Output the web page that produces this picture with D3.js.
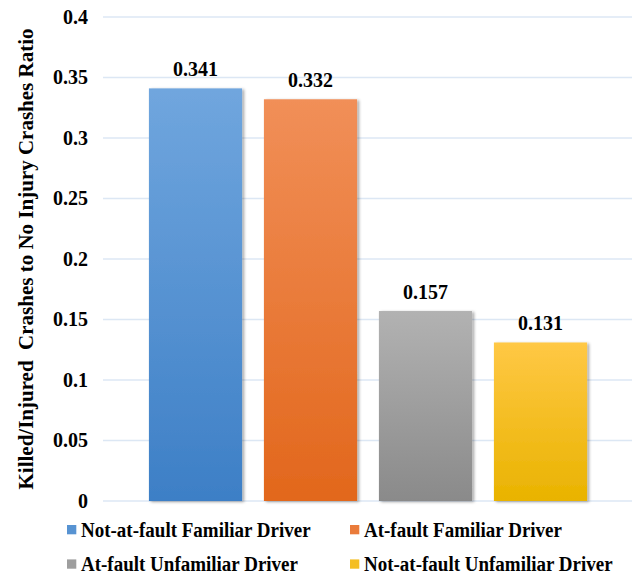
<!DOCTYPE html>
<html>
<head>
<meta charset="utf-8">
<script src="https://cdn.jsdelivr.net/npm/d3@7"></script>
<style>
  body { margin: 0; background: #fff; }
</style>
</head>
<body>
<div id="chart"></div>
<script>
// data
var series = ["Not-at-fault Familiar Driver", "At-fault Familiar Driver", "At-fault Unfamiliar Driver", "Not-at-fault Unfamiliar Driver"]
var values = [0.341, 0.332, 0.157, 0.131]
var yTicks = [0, 0.05, 0.1, 0.15, 0.2, 0.25, 0.3, 0.35, 0.4]
var topColors = ["#70a6de", "#f18f58", "#b2b2b2", "#ffc845"]
var bottomColors = ["#3d7fc6", "#e2671c", "#8a8a8a", "#e9b300"]
var yTitle = "Killed/Injured\u00a0\u00a0Crashes to No Injury Crashes Ratio"

var font = "Liberation Serif"
var w = 635, h = 576
var svg = d3.select('#chart').append('svg')
  .attr('width', w)
  .attr('height', h)
  .attr('font-family', font)
  .attr('font-weight', 'bold')

var x = d3.scaleBand().domain(series).range([138, 598]).paddingInner(0.19).paddingOuter(0.095)
var y = d3.scaleLinear().domain([0, 0.4]).range([501, 17])

var defs = svg.append('defs')
series.forEach(function(s, i){
  var g = defs.append('linearGradient')
    .attr('id', 'grad' + i)
    .attr('x1', 0).attr('y1', 0).attr('x2', 0).attr('y2', 1)
  g.append('stop').attr('offset', '0%').attr('stop-color', topColors[i])
  g.append('stop').attr('offset', '100%').attr('stop-color', bottomColors[i])
})
var f = defs.append('filter').attr('id', 'shadow')
  .attr('x', '-10%').attr('y', '-10%').attr('width', '130%').attr('height', '120%')
f.append('feDropShadow')
  .attr('dx', 2).attr('dy', 1).attr('stdDeviation', 1.5)
  .attr('flood-color', '#000').attr('flood-opacity', 0.35)

// gridlines
svg.append('g')
  .selectAll('line')
  .data(yTicks)
  .enter()
  .append('line')
  .attr('x1', 103)
  .attr('x2', 632)
  .attr('y1', function(d){ return y(d) })
  .attr('y2', function(d){ return y(d) })
  .attr('stroke', '#dce7f4')
  .attr('stroke-width', 1.3)

// y axis labels
var yAxis = d3.axisLeft(y).tickValues(yTicks).tickSize(0).tickPadding(0)
  .tickFormat(function(d){ return String(+d.toFixed(2)) })
svg.append('g')
  .attr('transform', 'translate(88,0)')
  .call(yAxis)
  .attr('font-family', font)
  .attr('font-weight', 'bold')
  .attr('font-size', 20)
  .call(function(g){ g.select('.domain').remove() })
  .selectAll('text')
  .attr('fill', '#000')

// bars
svg.append('g')
  .selectAll('rect')
  .data(values)
  .enter()
  .append('rect')
  .attr('x', function(d, i){ return x(series[i]) })
  .attr('width', x.bandwidth())
  .attr('y', function(d){ return y(d) })
  .attr('height', function(d){ return y(0) - y(d) })
  .attr('fill', function(d, i){ return 'url(#grad' + i + ')' })
  .attr('filter', 'url(#shadow)')

// value labels
svg.append('g')
  .selectAll('text')
  .data(values)
  .enter()
  .append('text')
  .attr('transform', function(d, i){
    return 'translate(' + (x(series[i]) + x.bandwidth() / 2) + ',' + (y(d) - 12.5) + ') scale(1,1.06)'
  })
  .attr('text-anchor', 'middle')
  .attr('font-size', 20)
  .text(function(d){ return d.toFixed(3) })

// y title
svg.append('text')
  .attr('transform', 'translate(32.5,259) rotate(-90)')
  .attr('text-anchor', 'middle')
  .attr('font-size', 21)
  .text(yTitle)

// legend
var legendPos = [[67, 529.6], [350, 529.6], [67, 564], [350, 564]]
var legend = svg.append('g')
  .selectAll('g')
  .data(series)
  .enter()
  .append('g')
  .attr('transform', function(d, i){ return 'translate(' + legendPos[i][0] + ',' + legendPos[i][1] + ')' })
legend.append('rect')
  .attr('x', 0)
  .attr('y', -4.6)
  .attr('width', 9.3)
  .attr('height', 9.3)
  .attr('fill', function(d, i){ return d3.interpolateRgb(topColors[i], bottomColors[i])(0.5) })
legend.append('text')
  .attr('transform', 'translate(14,7.3) scale(1,1.15)')
  .attr('font-size', 19)
  .text(function(d){ return d })
</script>
</body>
</html>
